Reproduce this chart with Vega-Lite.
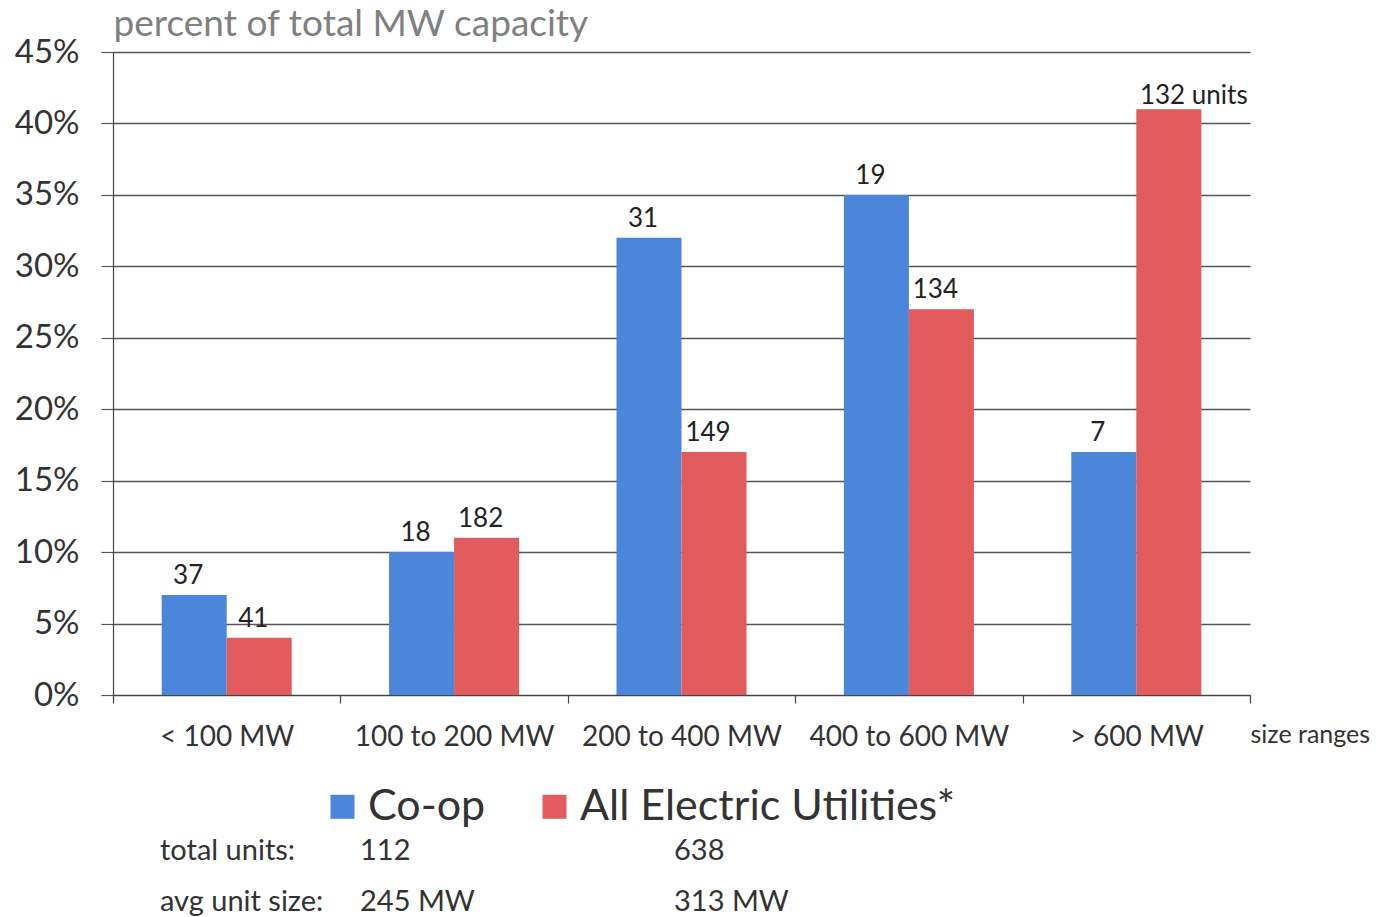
{
  "$schema": "https://vega.github.io/schema/vega-lite/v6.json",
  "width": 1137,
  "height": 643,
  "autosize": {"type": "none"},
  "padding": {"left": 113, "top": 52, "right": 129, "bottom": 222},
  "background": "white",
  "config": {
    "font": "Lato",
    "view": {"stroke": null}
  },
  "layer": [
    {
      "data": {
        "values": [
          {"range": "< 100 MW", "series": "Co-op", "pct": 0.07, "label": "37"},
          {"range": "< 100 MW", "series": "All Electric Utilities*", "pct": 0.04, "label": "41"},
          {"range": "100 to 200 MW", "series": "Co-op", "pct": 0.10, "label": "18"},
          {"range": "100 to 200 MW", "series": "All Electric Utilities*", "pct": 0.11, "label": "182"},
          {"range": "200 to 400 MW", "series": "Co-op", "pct": 0.32, "label": "31"},
          {"range": "200 to 400 MW", "series": "All Electric Utilities*", "pct": 0.17, "label": "149"},
          {"range": "400 to 600 MW", "series": "Co-op", "pct": 0.35, "label": "19"},
          {"range": "400 to 600 MW", "series": "All Electric Utilities*", "pct": 0.27, "label": "134"},
          {"range": "> 600 MW", "series": "Co-op", "pct": 0.17, "label": "7"},
          {"range": "> 600 MW", "series": "All Electric Utilities*", "pct": 0.41, "label": "132 units"}
        ]
      },
      "encoding": {
        "x": {
          "field": "range",
          "type": "nominal",
          "sort": ["< 100 MW", "100 to 200 MW", "200 to 400 MW", "400 to 600 MW", "> 600 MW"],
          "scale": {"paddingInner": 0, "paddingOuter": 0},
          "axis": {
            "labelAngle": 0,
            "labelFontSize": 28,
            "labelColor": "#333333",
            "labelPadding": 20,
            "labelBaseline": "top",
            "labelLimit": 400,
            "tickBand": "extent",
            "tickSize": 8,
            "tickColor": "#444444",
            "tickWidth": 1.2,
            "domainColor": "#444444",
            "domainWidth": 1.2,
            "grid": false,
            "title": "size ranges",
            "titleFontSize": 25,
            "titleFontWeight": "normal",
            "titleColor": "#333333",
            "titleAlign": "left",
            "titleBaseline": "alphabetic",
            "titleX": 1137,
            "titleY": 47
          }
        },
        "xOffset": {
          "field": "series",
          "type": "nominal",
          "sort": ["Co-op", "All Electric Utilities*"],
          "scale": {"paddingInner": 0, "paddingOuter": 0.749}
        },
        "y": {
          "field": "pct",
          "type": "quantitative",
          "scale": {"domain": [0, 0.45], "nice": false},
          "axis": {
            "values": [0, 0.05, 0.1, 0.15, 0.2, 0.25, 0.3, 0.35, 0.4, 0.45],
            "format": ".0%",
            "labelFontSize": 33,
            "labelColor": "#333333",
            "labelPadding": 22,
            "tickSize": 12,
            "tickColor": "#555555",
            "tickWidth": 1.2,
            "domainColor": "#444444",
            "domainWidth": 1.2,
            "grid": true,
            "gridColor": "#555555",
            "gridWidth": 1.3,
            "title": "percent of total MW capacity",
            "titleAngle": 0,
            "titleAlign": "left",
            "titleBaseline": "alphabetic",
            "titleX": 0,
            "titleY": -17,
            "titleFontSize": 37,
            "titleFontWeight": "normal",
            "titleColor": "#808080"
          }
        }
      },
      "layer": [
        {
          "mark": {"type": "bar"},
          "encoding": {
            "color": {
              "field": "series",
              "type": "nominal",
              "scale": {"domain": ["Co-op", "All Electric Utilities*"], "range": ["#4b86da", "#e25b5d"]},
              "legend": {
                "title": null,
                "orient": "none",
                "legendX": 208,
                "legendY": 733,
                "direction": "horizontal",
                "symbolType": "square",
                "symbolSize": 576,
                "symbolStrokeWidth": 0,
                "labelFontSize": 43,
                "labelColor": "#333333",
                "labelOffset": 4,
                "labelLimit": 600,
                "columnPadding": 47
              }
            }
          }
        },
        {
          "transform": [{"filter": "datum.label != '132 units'"}],
          "mark": {"type": "text", "baseline": "alphabetic", "dy": -11, "dx": -6, "fontSize": 26, "color": "#222222"},
          "encoding": {"text": {"field": "label", "type": "nominal"}}
        },
        {
          "transform": [{"filter": "datum.label == '132 units'"}],
          "mark": {"type": "text", "baseline": "alphabetic", "dy": -5, "dx": 25, "fontSize": 26, "color": "#222222"},
          "encoding": {"text": {"field": "label", "type": "nominal"}}
        }
      ]
    },
    {
      "data": {
        "values": [
          {"row": "total units:", "col": 0, "text": "total units:"},
          {"row": "total units:", "col": 1, "text": "112"},
          {"row": "total units:", "col": 2, "text": "638"},
          {"row": "avg unit size:", "col": 0, "text": "avg unit size:"},
          {"row": "avg unit size:", "col": 1, "text": "245 MW"},
          {"row": "avg unit size:", "col": 2, "text": "313 MW"}
        ]
      },
      "mark": {"type": "text", "align": "left", "baseline": "middle", "fontSize": 29, "color": "#333333"},
      "encoding": {
        "x": {
          "field": "col",
          "type": "quantitative",
          "scale": {"type": "linear", "domain": [0, 1, 2], "range": [47, 247, 561], "nice": false, "zero": false},
          "axis": null
        },
        "y": {
          "field": "row",
          "type": "nominal",
          "scale": {"type": "point", "domain": ["total units:", "avg unit size:"], "range": [799, 850], "padding": 0},
          "axis": null
        },
        "text": {"field": "text", "type": "nominal"}
      }
    }
  ],
  "resolve": {"scale": {"x": "independent", "y": "independent"}}
}
